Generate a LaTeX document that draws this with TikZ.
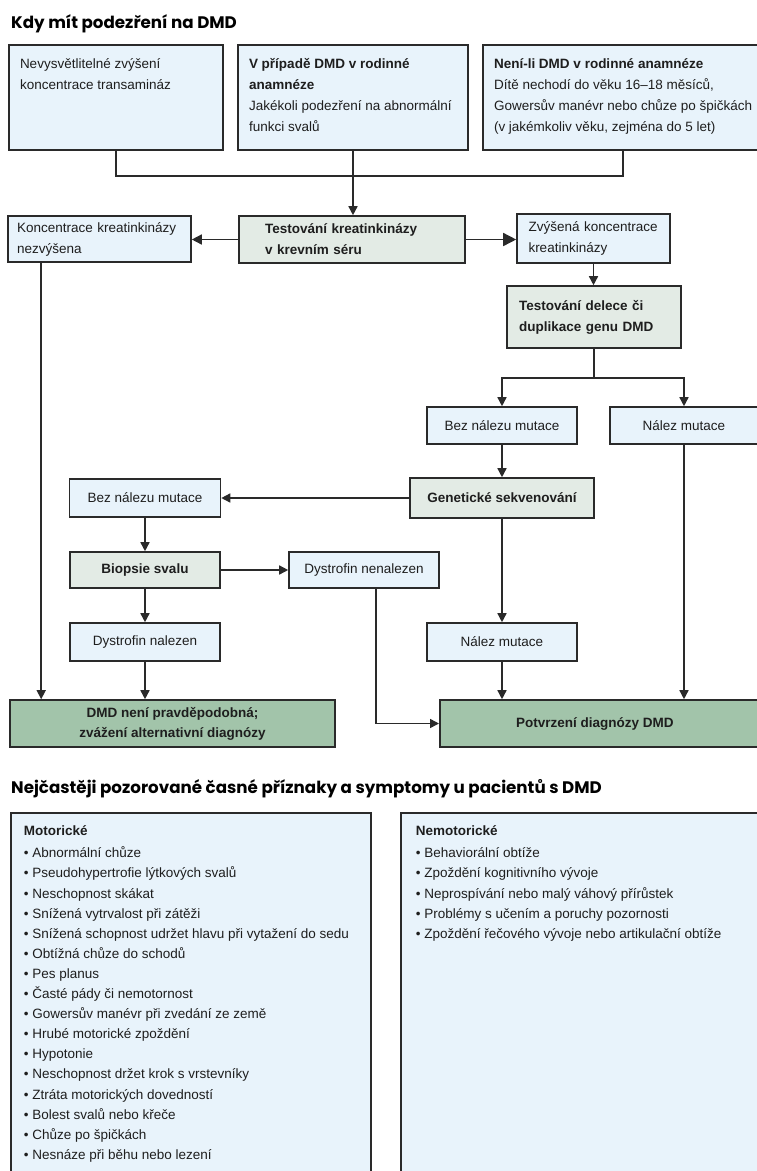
\documentclass[tikz,border=0pt]{standalone}
\usepackage{fontspec}
\setmainfont{Liberation Sans}
\newfontfamily\titlefont{Poppins}
\usetikzlibrary{arrows.meta,calc}
\definecolor{lblue}{HTML}{E8F3FB}
\definecolor{lgrey}{HTML}{E3EBE5}
\definecolor{dgreen}{HTML}{A2C4AA}
\definecolor{edgec}{HTML}{2A2A2A}
\definecolor{txt}{HTML}{1E1E1E}
\tikzset{
  box/.style={draw=edgec, line width=1.6pt, inner sep=0pt, text=txt},
  bluebox/.style={box, fill=lblue},
  greybox/.style={box, fill=lgrey},
  greenbox/.style={box, fill=dgreen},
  conn/.style={draw=edgec, line width=1.5pt},
  arr/.style={conn, -{Triangle[length=9pt,width=9pt]}},
  bigarr/.style={conn, -{Triangle[length=13pt,width=13pt]}},
  midarr/.style={conn, -{Triangle[length=10pt,width=10pt]}},
  ttl/.style={anchor=base west, inner sep=0pt, text=black, font={\titlefont\fontsize{16.7pt}{19pt}\selectfont\bfseries}}
}
\begin{document}
\begin{tikzpicture}[x=1pt,y=-1pt,font={\fontsize{13.5pt}{21pt}\selectfont}]
\useasboundingbox (0,0) rectangle (757,1171);
\fill[white] (0,0) rectangle (757,1171);
\clip (0,0) rectangle (757,1171);

% titles
\node[ttl] (title1) at (11,28.8) {Kdy mít podezření na DMD};
\node[ttl] (title2) at (11,793.8) {Nejčastěji pozorované časné příznaky a symptomy u pacientů s DMD};

% top boxes
\node[bluebox, minimum width=214pt, minimum height=105pt] (a) at (116,97.5)
  {\parbox[t][88.4pt][t]{192pt}{\raggedright\strut Nevysvětlitelné zvýšení\\ koncentrace transamináz}};
\node[bluebox, minimum width=230pt, minimum height=105pt] (b) at (353,97.5)
  {\parbox[t][88.4pt][t]{208pt}{\raggedright\strut{\bfseries V případě DMD v rodinné\\ anamnéze}\\ Jakékoli podezření na abnormální\\ funkci svalů}};
\node[bluebox, minimum width=300pt, minimum height=105pt] (c) at (633,97.5)
  {\parbox[t][88.4pt][t]{278pt}{\raggedright\strut{\bfseries Není-li DMD v rodinné anamnéze}\\ Dítě nechodí do věku 16–18 měsíců,\\ Gowersův manévr nebo chůze po špičkách\\ (v jakémkoliv věku, zejména do 5 let)}};

% flowchart boxes
\node[greybox, minimum width=226pt, minimum height=47pt, text width=174pt, align=left] (t1) at (352,239.5)
  {\bfseries Testování kreatinkinázy\\ v krevním séru};
\node[bluebox, minimum width=183pt, minimum height=46pt, text width=165pt, align=left] (k0) at (99.5,239)
  {Koncentrace kreatinkinázy\\ nezvýšena};
\node[bluebox, minimum width=153pt, minimum height=49pt, text width=130pt, align=left] (z) at (593.5,238.5)
  {Zvýšená koncentrace\\ kreatinkinázy};
\node[greybox, minimum width=174pt, minimum height=62pt, text width=150pt, align=left] (t2) at (594,317)
  {\bfseries Testování delece či\\ duplikace genu DMD};
\node[bluebox, minimum width=150pt, minimum height=37pt] (bn1) at (502,425.5) {Bez nálezu mutace};
\node[bluebox, minimum width=148pt, minimum height=37pt] (nm1) at (684,425.5) {Nález mutace};
\node[greybox, minimum width=184pt, minimum height=40pt] (gs) at (502,498) {\bfseries Genetické sekvenování};
\node[bluebox, minimum width=151pt, minimum height=38pt] (bn2) at (145,498) {Bez nálezu mutace};
\node[greybox, minimum width=150pt, minimum height=36pt] (bs) at (145,570) {\bfseries Biopsie svalu};
\node[bluebox, minimum width=150pt, minimum height=36pt] (dn) at (364,570) {Dystrofin nenalezen};
\node[bluebox, minimum width=150pt, minimum height=38pt] (dnl) at (145,642) {Dystrofin nalezen};
\node[bluebox, minimum width=150pt, minimum height=38pt] (nm2) at (502,642) {Nález mutace};
\node[greenbox, minimum width=325pt, minimum height=47pt, align=center, font={\fontsize{13.5pt}{20pt}\selectfont\bfseries}] (fl) at (172.5,723.5)
  {DMD není pravděpodobná;\\ zvážení alternativní diagnózy};
\node[greenbox, minimum width=340pt, minimum height=47pt, anchor=west, font={\fontsize{13.5pt}{20pt}\selectfont\bfseries}] (fr) at (439,723.5)
  {\hspace*{-30pt}Potvrzení diagnózy DMD};

% symptom boxes
\node[bluebox, minimum width=360pt, minimum height=388pt, anchor=north west] (mot) at (10,812)
  {\parbox[t][370pt][t]{334pt}{\fontsize{13.5pt}{20.1pt}\selectfont\raggedright\strut\textbf{Motorické}\\[1.9pt]
  • Abnormální chůze\\
  • Pseudohypertrofie lýtkových svalů\\
  • Neschopnost skákat\\
  • Snížená vytrvalost při zátěži\\
  • Snížená schopnost udržet hlavu při vytažení do sedu\\
  • Obtížná chůze do schodů\\
  • Pes planus\\
  • Časté pády či nemotornost\\
  • Gowersův manévr při zvedání ze země\\
  • Hrubé motorické zpoždění\\
  • Hypotonie\\
  • Neschopnost držet krok s vrstevníky\\
  • Ztráta motorických dovedností\\
  • Bolest svalů nebo křeče\\
  • Chůze po špičkách\\
  • Nesnáze při běhu nebo lezení}};
\node[bluebox, minimum width=380pt, minimum height=388pt, anchor=north west] (nmot) at (400,812)
  {\parbox[t][370pt][t]{350pt}{\fontsize{13.5pt}{20.1pt}\selectfont\raggedright\strut\textbf{Nemotorické}\\[1.9pt]
  • Behaviorální obtíže\\
  • Zpoždění kognitivního vývoje\\
  • Neprospívání nebo malý váhový přírůstek\\
  • Problémy s učením a poruchy pozornosti\\
  • Zpoždění řečového vývoje nebo artikulační obtíže}};

% connectors
\coordinate (m) at (353,176);
\draw[conn] (a.south) |- (m);
\draw[conn] ([xshift=141pt]c.south west) |- (m);
\draw[arr] (b.south) -- (b.south |- t1.north);
\draw[midarr] (t1.west) -- (t1.west -| k0.east);
\draw[bigarr] (t1.east) -- (t1.east -| z.west);
\draw[arr] (z.south) -- (z.south |- t2.north);
\coordinate (sp) at ($(t2.south)+(0,29)$);
\draw[conn] (t2.south) -- (sp);
\draw[arr] (sp) -| (bn1.north);
\draw[arr] (sp) -| (nm1.north);
\draw[arr] (bn1.south) -- (bn1.south |- gs.north);
\draw[arr] (gs.west) -- (gs.west -| bn2.east);
\draw[arr] (bn2.south) -- (bs.north);
\draw[arr] (bs.east) -- (dn.west);
\draw[arr] (bs.south) -- (dnl.north);
\draw[arr] (dnl.south) -- (dnl.south |- fl.north);
\draw[arr] ([xshift=34pt]k0.south west) -- ([xshift=34pt]k0.south west |- fl.north);
\draw[arr] ([xshift=12pt]dn.south) |- (fr.west);
\draw[arr] (gs.south) -- (gs.south |- nm2.north);
\draw[arr] (nm2.south) -- (nm2.south |- fr.north);
\draw[arr] (nm1.south) -- (nm1.south |- fr.north);
\end{tikzpicture}
\end{document}
